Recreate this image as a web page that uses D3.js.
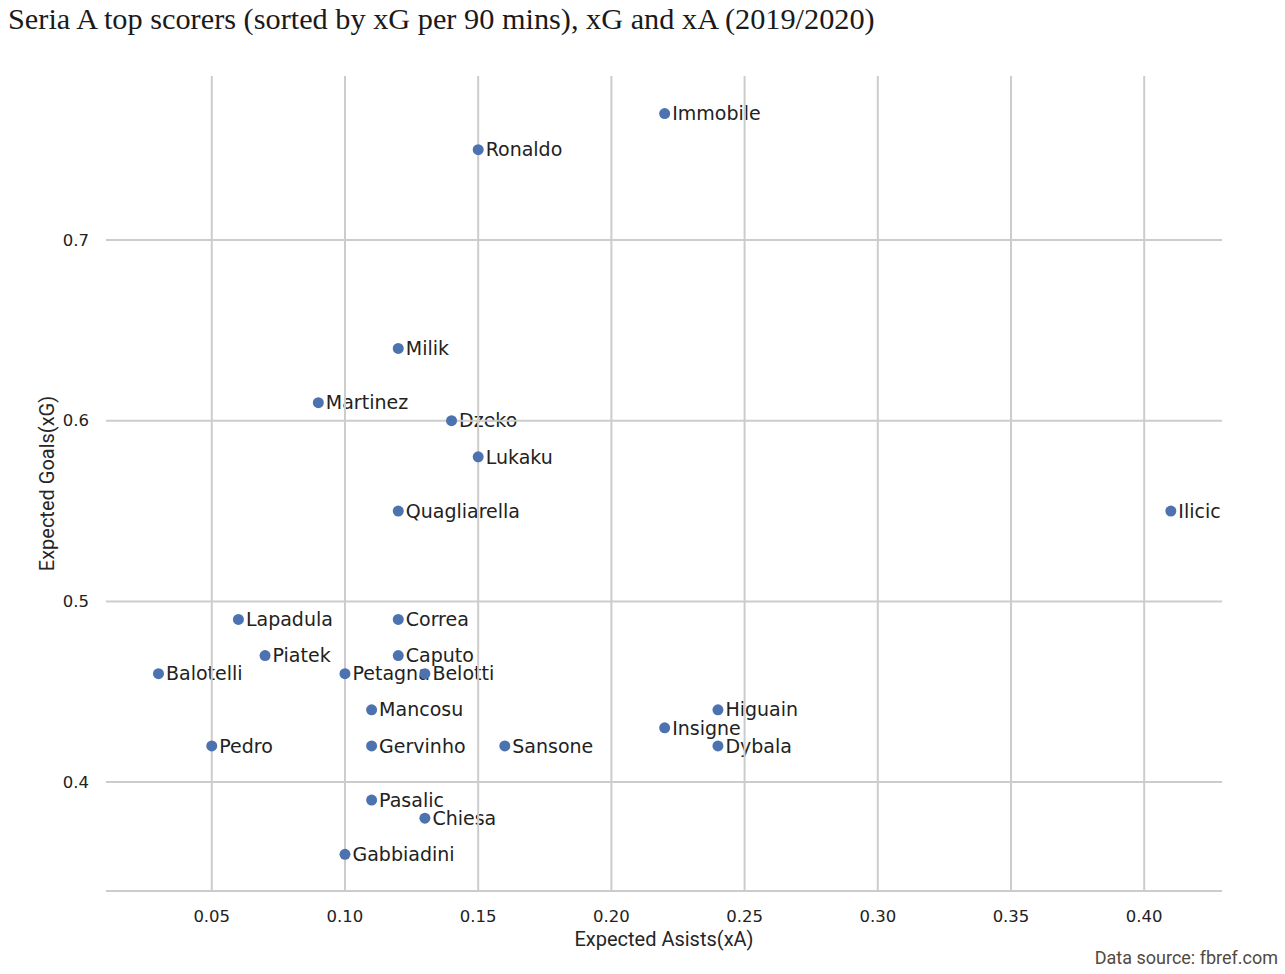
<!DOCTYPE html>
<html lang="en">
<head>
    <meta charset="UTF-8">
    <title>Seria A top scorers</title>
    <style>
        body { margin: 0; background: #fff; }
        .grid line { stroke: #cccccc; stroke-width: 2px; }
        .tick-label { font: 16.5px "DejaVu Sans", sans-serif; fill: #222; }
        .axis-title { font: 20px Roboto, sans-serif; fill: #262626; }
        .pt-label { font: 19px "DejaVu Sans", sans-serif; fill: #222; }
    </style>
</head>
<body>
    <div id="chart"></div>

    <script src="https://d3js.org/d3.v7.min.js"></script>
    <script>
        // player data (xA, xG per 90)
        const players = ['Immobile', 'Ronaldo', 'Milik', 'Martinez', 'Dzeko', 'Lukaku', 'Quagliarella', 'Ilicic',
            'Lapadula', 'Correa', 'Piatek', 'Caputo', 'Balotelli', 'Petagna', 'Belotti', 'Mancosu', 'Higuain',
            'Insigne', 'Pedro', 'Gervinho', 'Sansone', 'Dybala', 'Pasalic', 'Chiesa', 'Gabbiadini'];
        const xA = [0.22, 0.15, 0.12, 0.09, 0.14, 0.15, 0.12, 0.41,
            0.06, 0.12, 0.07, 0.12, 0.03, 0.10, 0.13, 0.11, 0.24,
            0.22, 0.05, 0.11, 0.16, 0.24, 0.11, 0.13, 0.10];
        const xG = [0.77, 0.75, 0.64, 0.61, 0.60, 0.58, 0.55, 0.55,
            0.49, 0.49, 0.47, 0.47, 0.46, 0.46, 0.46, 0.44, 0.44,
            0.43, 0.42, 0.42, 0.42, 0.42, 0.39, 0.38, 0.36];
        const xTicks = [0.05, 0.10, 0.15, 0.20, 0.25, 0.30, 0.35, 0.40];
        const yTicks = [0.4, 0.5, 0.6, 0.7];

        const data = players.map((p, i) => ({ name: p, xa: xA[i], xg: xG[i] }));

        const width = 1285, height = 974;
        const plotLeft = 106, plotRight = 1222, plotTop = 76, plotBottom = 891;

        const svg = d3.select('#chart').append('svg')
            .attr('width', width)
            .attr('height', height);

        const x = d3.scaleLinear().domain([0.0103, 0.4292]).range([plotLeft, plotRight]);
        const y = d3.scaleLinear().domain([0.3397, 0.7908]).range([plotBottom, plotTop]);

        // title
        svg.append('text')
            .attr('x', 8).attr('y', 29)
            .style('font', '30.3px "Liberation Serif", serif')
            .style('fill', '#1a1a1a')
            .text('Seria A top scorers (sorted by xG per 90 mins), xG and xA (2019/2020)');

        // labels go under the grid, like the original
        svg.append('g').selectAll('text')
            .data(data)
            .enter().append('text')
            .attr('class', 'pt-label')
            .attr('x', d => x(d.xa) + 7.5)
            .attr('y', d => y(d.xg))
            .attr('dy', '0.35em')
            .text(d => d.name);

        const grid = svg.append('g').attr('class', 'grid');
        grid.selectAll('.vx')
            .data(xTicks)
            .enter().append('line')
            .attr('x1', d => x(d)).attr('x2', d => x(d))
            .attr('y1', plotTop).attr('y2', plotBottom);
        grid.selectAll('.hy')
            .data(yTicks)
            .enter().append('line')
            .attr('x1', plotLeft).attr('x2', plotRight)
            .attr('y1', d => y(d)).attr('y2', d => y(d));
        grid.append('line')
            .attr('x1', plotLeft).attr('x2', plotRight)
            .attr('y1', plotBottom).attr('y2', plotBottom);

        // tick labels
        svg.append('g').selectAll('text')
            .data(xTicks)
            .enter().append('text')
            .attr('class', 'tick-label')
            .attr('x', d => x(d))
            .attr('y', 922)
            .attr('text-anchor', 'middle')
            .text(d => d3.format('.2f')(d));
        svg.append('g').selectAll('text')
            .data(yTicks)
            .enter().append('text')
            .attr('class', 'tick-label')
            .attr('x', 89)
            .attr('y', d => y(d))
            .attr('dy', '0.35em')
            .attr('text-anchor', 'end')
            .text(d => d3.format('.1f')(d));

        // points
        svg.append('g').selectAll('circle')
            .data(data)
            .enter().append('circle')
            .attr('cx', d => x(d.xa))
            .attr('cy', d => y(d.xg))
            .attr('r', 5.5)
            .attr('fill', '#4c72b0');

        svg.append('text')
            .attr('class', 'axis-title')
            .attr('x', (plotLeft + plotRight) / 2).attr('y', 946)
            .attr('text-anchor', 'middle')
            .text('Expected Asists(xA)');
        svg.append('text')
            .attr('class', 'axis-title')
            .attr('transform', `translate(54,${(plotTop + plotBottom) / 2}) rotate(-90)`)
            .attr('text-anchor', 'middle')
            .text('Expected Goals(xG)');

        svg.append('text')
            .attr('x', 1278).attr('y', 964)
            .attr('text-anchor', 'end')
            .style('font', '18px Roboto, sans-serif')
            .style('fill', '#524a3e')
            .text('Data source: fbref.com');
    </script>
</body>
</html>
